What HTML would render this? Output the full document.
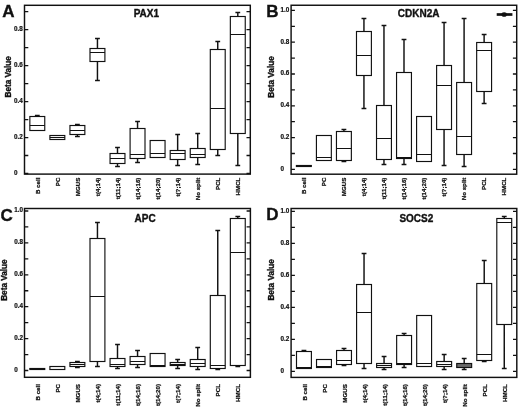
<!DOCTYPE html>
<html><head><meta charset="utf-8"><style>
html,body{margin:0;padding:0;background:#fff;font-family:"Liberation Sans",sans-serif;}
svg{display:block;filter:grayscale(1);}
text{fill:#111;}
</style></head><body>
<svg width="520" height="407" viewBox="0 0 520 407">
<rect width="520" height="407" fill="#fff"/>
<rect x="24.5" y="5.3" width="225.8" height="168.8" fill="none" stroke="#111" stroke-width="1.45"/>
<path d="M24.5 173.5h3.8M250.3 173.5h-3.8M24.5 137.54h3.8M250.3 137.54h-3.8M24.5 101.58h3.8M250.3 101.58h-3.8M24.5 65.62h3.8M250.3 65.62h-3.8M24.5 29.66h3.8M250.3 29.66h-3.8M24.5 155.52h3.8M250.3 155.52h-3.8M24.5 119.56h3.8M250.3 119.56h-3.8M24.5 83.6h3.8M250.3 83.6h-3.8M24.5 47.64h3.8M250.3 47.64h-3.8M24.5 11.68h3.8M250.3 11.68h-3.8" stroke="#111" stroke-width="1.3" fill="none"/>
<text x="14.1" y="174.95" font-size="6.3" font-family="Liberation Sans, sans-serif" font-weight="bold" stroke="#111" stroke-width="0.2">0</text>
<text x="14.1" y="138.99" font-size="6.3" font-family="Liberation Sans, sans-serif" font-weight="bold" stroke="#111" stroke-width="0.2">0.2</text>
<text x="14.1" y="103.03" font-size="6.3" font-family="Liberation Sans, sans-serif" font-weight="bold" stroke="#111" stroke-width="0.2">0.4</text>
<text x="14.1" y="67.07" font-size="6.3" font-family="Liberation Sans, sans-serif" font-weight="bold" stroke="#111" stroke-width="0.2">0.6</text>
<text x="14.1" y="31.11" font-size="6.3" font-family="Liberation Sans, sans-serif" font-weight="bold" stroke="#111" stroke-width="0.2">0.8</text>
<rect x="29.85" y="116.5" width="14.9" height="14" fill="#fff" stroke="#111" stroke-width="1.15"/>
<rect x="49.9" y="135.5" width="14.9" height="4" fill="#fff" stroke="#111" stroke-width="1.15"/>
<rect x="69.95" y="125.5" width="14.9" height="9" fill="#fff" stroke="#111" stroke-width="1.15"/>
<rect x="90" y="48.5" width="14.9" height="13" fill="#fff" stroke="#111" stroke-width="1.15"/>
<rect x="110.05" y="153.5" width="14.9" height="10" fill="#fff" stroke="#111" stroke-width="1.15"/>
<rect x="130.1" y="128.5" width="14.9" height="30" fill="#fff" stroke="#111" stroke-width="1.15"/>
<rect x="150.15" y="140.5" width="14.9" height="17" fill="#fff" stroke="#111" stroke-width="1.15"/>
<rect x="170.2" y="150.5" width="14.9" height="9" fill="#fff" stroke="#111" stroke-width="1.15"/>
<rect x="190.25" y="148.5" width="14.9" height="9" fill="#fff" stroke="#111" stroke-width="1.15"/>
<rect x="210.3" y="49.5" width="14.9" height="100" fill="#fff" stroke="#111" stroke-width="1.15"/>
<rect x="230.35" y="16.5" width="14.9" height="117" fill="#fff" stroke="#111" stroke-width="1.15"/>
<path d="M29.85 125.5H44.75M49.9 137.5H64.8M69.95 130.5H84.85M90 52.5H104.9M110.05 158.5H124.95M130.1 154.5H145M150.15 153.5H165.05M170.2 153.5H185.1M190.25 154.5H205.15M210.3 108.5H225.2M230.35 34.5H245.25" stroke="#111" stroke-width="1.15" fill="none"/>
<path d="M37.3 116.5V115.5M34.9 115.5H39.7M77.4 125.5V124.5M75 124.5H79.8M77.4 134.5V136.5M75 136.5H79.8M97.45 48.5V38.5M95.05 38.5H99.85M97.45 61.5V80.5M95.05 80.5H99.85M117.5 153.5V147.5M115.1 147.5H119.9M117.5 163.5V166.5M115.1 166.5H119.9M137.55 128.5V121.5M135.15 121.5H139.95M137.55 158.5V162.5M135.15 162.5H139.95M177.65 150.5V134.5M175.25 134.5H180.05M177.65 159.5V165.5M175.25 165.5H180.05M197.7 148.5V133.5M195.3 133.5H200.1M197.7 157.5V164.5M195.3 164.5H200.1M217.75 49.5V41.5M215.35 41.5H220.15M217.75 149.5V155.5M215.35 155.5H220.15M237.8 16.5V12.5M235.4 12.5H240.2M237.8 133.5V165.5M235.4 165.5H240.2" stroke="#111" stroke-width="1.45" fill="none"/>
<text transform="translate(39.6 177.6) rotate(-90)" text-anchor="end" font-size="6.2" font-family="Liberation Sans, sans-serif" font-weight="bold" stroke="#111" stroke-width="0.25">B cell</text>
<text transform="translate(59.65 177.6) rotate(-90)" text-anchor="end" font-size="6.2" font-family="Liberation Sans, sans-serif" font-weight="bold" stroke="#111" stroke-width="0.25">PC</text>
<text transform="translate(79.7 177.6) rotate(-90)" text-anchor="end" font-size="6.2" font-family="Liberation Sans, sans-serif" font-weight="bold" stroke="#111" stroke-width="0.25">MGUS</text>
<text transform="translate(99.75 177.6) rotate(-90)" text-anchor="end" font-size="6.2" font-family="Liberation Sans, sans-serif" font-weight="bold" stroke="#111" stroke-width="0.25">t(4;14)</text>
<text transform="translate(119.8 177.6) rotate(-90)" text-anchor="end" font-size="6.2" font-family="Liberation Sans, sans-serif" font-weight="bold" stroke="#111" stroke-width="0.25">t(11;14)</text>
<text transform="translate(139.85 177.6) rotate(-90)" text-anchor="end" font-size="6.2" font-family="Liberation Sans, sans-serif" font-weight="bold" stroke="#111" stroke-width="0.25">t(14;16)</text>
<text transform="translate(159.9 177.6) rotate(-90)" text-anchor="end" font-size="6.2" font-family="Liberation Sans, sans-serif" font-weight="bold" stroke="#111" stroke-width="0.25">t(14;20)</text>
<text transform="translate(179.95 177.6) rotate(-90)" text-anchor="end" font-size="6.2" font-family="Liberation Sans, sans-serif" font-weight="bold" stroke="#111" stroke-width="0.25">t(?;14)</text>
<text transform="translate(200 177.6) rotate(-90)" text-anchor="end" font-size="6.2" font-family="Liberation Sans, sans-serif" font-weight="bold" stroke="#111" stroke-width="0.25">No split</text>
<text transform="translate(220.05 177.6) rotate(-90)" text-anchor="end" font-size="6.2" font-family="Liberation Sans, sans-serif" font-weight="bold" stroke="#111" stroke-width="0.25">PCL</text>
<text transform="translate(240.1 177.6) rotate(-90)" text-anchor="end" font-size="6.2" font-family="Liberation Sans, sans-serif" font-weight="bold" stroke="#111" stroke-width="0.25">HMCL</text>
<text transform="translate(11 76.8) rotate(-90)" text-anchor="middle" font-size="8.2" font-family="Liberation Sans, sans-serif" font-weight="bold" stroke="#111" stroke-width="0.35">Beta Value</text>
<text x="133.7" y="16.9" font-size="10" font-family="Liberation Sans, sans-serif" font-weight="bold" stroke="#111" stroke-width="0.35">PAX1</text>
<text x="2.3" y="17" font-size="17" font-family="Liberation Sans, sans-serif" font-weight="bold" stroke="#111" stroke-width="0.35">A</text>
<rect x="291.1" y="5.25" width="225.6" height="168.95" fill="none" stroke="#111" stroke-width="1.45"/>
<path d="M291.1 169.4h3.8M516.7 169.4h-3.8M291.1 137.6h3.8M516.7 137.6h-3.8M291.1 105.8h3.8M516.7 105.8h-3.8M291.1 74h3.8M516.7 74h-3.8M291.1 42.2h3.8M516.7 42.2h-3.8M291.1 10.4h3.8M516.7 10.4h-3.8M291.1 153.5h3.8M516.7 153.5h-3.8M291.1 121.7h3.8M516.7 121.7h-3.8M291.1 89.9h3.8M516.7 89.9h-3.8M291.1 58.1h3.8M516.7 58.1h-3.8M291.1 26.3h3.8M516.7 26.3h-3.8" stroke="#111" stroke-width="1.3" fill="none"/>
<text x="280.5" y="170.85" font-size="6.3" font-family="Liberation Sans, sans-serif" font-weight="bold" stroke="#111" stroke-width="0.2">0</text>
<text x="280.5" y="139.05" font-size="6.3" font-family="Liberation Sans, sans-serif" font-weight="bold" stroke="#111" stroke-width="0.2">0.2</text>
<text x="280.5" y="107.25" font-size="6.3" font-family="Liberation Sans, sans-serif" font-weight="bold" stroke="#111" stroke-width="0.2">0.4</text>
<text x="280.5" y="75.45" font-size="6.3" font-family="Liberation Sans, sans-serif" font-weight="bold" stroke="#111" stroke-width="0.2">0.6</text>
<text x="280.5" y="43.65" font-size="6.3" font-family="Liberation Sans, sans-serif" font-weight="bold" stroke="#111" stroke-width="0.2">0.8</text>
<text x="280.5" y="11.85" font-size="6.3" font-family="Liberation Sans, sans-serif" font-weight="bold" stroke="#111" stroke-width="0.2">1.0</text>
<rect x="296.4" y="165.5" width="14.9" height="1" fill="#fff" stroke="#111" stroke-width="1.15"/>
<rect x="316.43" y="135.5" width="14.9" height="25" fill="#fff" stroke="#111" stroke-width="1.15"/>
<rect x="336.46" y="131.5" width="14.9" height="29" fill="#fff" stroke="#111" stroke-width="1.15"/>
<rect x="356.49" y="31.5" width="14.9" height="44" fill="#fff" stroke="#111" stroke-width="1.15"/>
<rect x="376.52" y="105.5" width="14.9" height="54" fill="#fff" stroke="#111" stroke-width="1.15"/>
<rect x="396.55" y="72.5" width="14.9" height="86" fill="#fff" stroke="#111" stroke-width="1.15"/>
<rect x="416.58" y="116.5" width="14.9" height="45" fill="#fff" stroke="#111" stroke-width="1.15"/>
<rect x="436.61" y="65.5" width="14.9" height="64" fill="#fff" stroke="#111" stroke-width="1.15"/>
<rect x="456.64" y="82.5" width="14.9" height="72" fill="#fff" stroke="#111" stroke-width="1.15"/>
<rect x="476.67" y="42.5" width="14.9" height="49" fill="#fff" stroke="#111" stroke-width="1.15"/>
<path d="M496.7 14.5H512.4" stroke="#111" stroke-width="2.7" fill="none"/>
<ellipse cx="504.15" cy="14.5" rx="2.7" ry="2.3" fill="#111"/>
<path d="M296.4 165.5H311.3M316.43 157.5H331.33M336.46 148.5H351.36M356.49 55.5H371.39M376.52 138.5H391.42M396.55 157.5H411.45M416.58 154.5H431.48M436.61 85.5H451.51M456.64 136.5H471.54M476.67 50.5H491.57" stroke="#111" stroke-width="1.15" fill="none"/>
<path d="M343.91 131.5V129.5M341.51 129.5H346.31M343.91 160.5V161.5M341.51 161.5H346.31M363.94 31.5V18.5M361.54 18.5H366.34M363.94 75.5V108.5M361.54 108.5H366.34M383.97 105.5V25.5M381.57 25.5H386.37M383.97 159.5V164.5M381.57 164.5H386.37M404 72.5V39.5M401.6 39.5H406.4M404 158.5V164.5M401.6 164.5H406.4M444.06 65.5V22.5M441.66 22.5H446.46M444.06 129.5V165.5M441.66 165.5H446.46M464.09 82.5V18.5M461.69 18.5H466.49M464.09 154.5V166.5M461.69 166.5H466.49M484.12 42.5V34.5M481.72 34.5H486.52M484.12 91.5V103.5M481.72 103.5H486.52" stroke="#111" stroke-width="1.45" fill="none"/>
<text transform="translate(305.85 177.6) rotate(-90)" text-anchor="end" font-size="6.2" font-family="Liberation Sans, sans-serif" font-weight="bold" stroke="#111" stroke-width="0.25">B cell</text>
<text transform="translate(325.88 177.6) rotate(-90)" text-anchor="end" font-size="6.2" font-family="Liberation Sans, sans-serif" font-weight="bold" stroke="#111" stroke-width="0.25">PC</text>
<text transform="translate(345.91 177.6) rotate(-90)" text-anchor="end" font-size="6.2" font-family="Liberation Sans, sans-serif" font-weight="bold" stroke="#111" stroke-width="0.25">MGUS</text>
<text transform="translate(365.94 177.6) rotate(-90)" text-anchor="end" font-size="6.2" font-family="Liberation Sans, sans-serif" font-weight="bold" stroke="#111" stroke-width="0.25">t(4;14)</text>
<text transform="translate(385.97 177.6) rotate(-90)" text-anchor="end" font-size="6.2" font-family="Liberation Sans, sans-serif" font-weight="bold" stroke="#111" stroke-width="0.25">t(11;14)</text>
<text transform="translate(406 177.6) rotate(-90)" text-anchor="end" font-size="6.2" font-family="Liberation Sans, sans-serif" font-weight="bold" stroke="#111" stroke-width="0.25">t(14;16)</text>
<text transform="translate(426.03 177.6) rotate(-90)" text-anchor="end" font-size="6.2" font-family="Liberation Sans, sans-serif" font-weight="bold" stroke="#111" stroke-width="0.25">t(14;20)</text>
<text transform="translate(446.06 177.6) rotate(-90)" text-anchor="end" font-size="6.2" font-family="Liberation Sans, sans-serif" font-weight="bold" stroke="#111" stroke-width="0.25">t(?;14)</text>
<text transform="translate(466.09 177.6) rotate(-90)" text-anchor="end" font-size="6.2" font-family="Liberation Sans, sans-serif" font-weight="bold" stroke="#111" stroke-width="0.25">No split</text>
<text transform="translate(486.12 177.6) rotate(-90)" text-anchor="end" font-size="6.2" font-family="Liberation Sans, sans-serif" font-weight="bold" stroke="#111" stroke-width="0.25">PCL</text>
<text transform="translate(506.15 177.6) rotate(-90)" text-anchor="end" font-size="6.2" font-family="Liberation Sans, sans-serif" font-weight="bold" stroke="#111" stroke-width="0.25">HMCL</text>
<text transform="translate(274.3 77) rotate(-90)" text-anchor="middle" font-size="8.2" font-family="Liberation Sans, sans-serif" font-weight="bold" stroke="#111" stroke-width="0.35">Beta Value</text>
<text x="397.8" y="16.9" font-size="10" font-family="Liberation Sans, sans-serif" font-weight="bold" stroke="#111" stroke-width="0.35">CDKN2A</text>
<text x="266.3" y="17.2" font-size="17" font-family="Liberation Sans, sans-serif" font-weight="bold" stroke="#111" stroke-width="0.35">B</text>
<rect x="24.5" y="208.5" width="225.9" height="168.8" fill="none" stroke="#111" stroke-width="1.45"/>
<path d="M24.5 370.5h3.8M250.4 370.5h-3.8M24.5 338.6h3.8M250.4 338.6h-3.8M24.5 306.7h3.8M250.4 306.7h-3.8M24.5 274.8h3.8M250.4 274.8h-3.8M24.5 242.9h3.8M250.4 242.9h-3.8M24.5 211h3.8M250.4 211h-3.8M24.5 354.55h3.8M250.4 354.55h-3.8M24.5 322.65h3.8M250.4 322.65h-3.8M24.5 290.75h3.8M250.4 290.75h-3.8M24.5 258.85h3.8M250.4 258.85h-3.8M24.5 226.95h3.8M250.4 226.95h-3.8" stroke="#111" stroke-width="1.3" fill="none"/>
<text x="14.3" y="371.95" font-size="6.3" font-family="Liberation Sans, sans-serif" font-weight="bold" stroke="#111" stroke-width="0.2">0</text>
<text x="14.3" y="340.05" font-size="6.3" font-family="Liberation Sans, sans-serif" font-weight="bold" stroke="#111" stroke-width="0.2">0.2</text>
<text x="14.3" y="308.15" font-size="6.3" font-family="Liberation Sans, sans-serif" font-weight="bold" stroke="#111" stroke-width="0.2">0.4</text>
<text x="14.3" y="276.25" font-size="6.3" font-family="Liberation Sans, sans-serif" font-weight="bold" stroke="#111" stroke-width="0.2">0.6</text>
<text x="14.3" y="244.35" font-size="6.3" font-family="Liberation Sans, sans-serif" font-weight="bold" stroke="#111" stroke-width="0.2">0.8</text>
<text x="14.3" y="212.45" font-size="6.3" font-family="Liberation Sans, sans-serif" font-weight="bold" stroke="#111" stroke-width="0.2">1.0</text>
<rect x="29.85" y="368.5" width="14.9" height="1" fill="#fff" stroke="#111" stroke-width="1.15"/>
<rect x="49.9" y="366.5" width="14.9" height="3" fill="#fff" stroke="#111" stroke-width="1.15"/>
<rect x="69.95" y="362.5" width="14.9" height="4" fill="#fff" stroke="#111" stroke-width="1.15"/>
<rect x="90" y="238.5" width="14.9" height="123" fill="#fff" stroke="#111" stroke-width="1.15"/>
<rect x="110.05" y="358.5" width="14.9" height="8" fill="#fff" stroke="#111" stroke-width="1.15"/>
<rect x="130.1" y="356.5" width="14.9" height="8" fill="#fff" stroke="#111" stroke-width="1.15"/>
<rect x="150.15" y="353.5" width="14.9" height="13" fill="#fff" stroke="#111" stroke-width="1.15"/>
<rect x="170.2" y="362.5" width="14.9" height="3" fill="#fff" stroke="#111" stroke-width="1.15"/>
<rect x="190.25" y="359.5" width="14.9" height="7" fill="#fff" stroke="#111" stroke-width="1.15"/>
<rect x="210.3" y="295.5" width="14.9" height="73" fill="#fff" stroke="#111" stroke-width="1.15"/>
<rect x="230.35" y="218.5" width="14.9" height="147" fill="#fff" stroke="#111" stroke-width="1.15"/>
<path d="M29.85 368.5H44.75M49.9 369.5H64.8M69.95 364.5H84.85M90 296.5H104.9M110.05 364.5H124.95M130.1 361.5H145M150.15 365.5H165.05M170.2 364.5H185.1M190.25 363.5H205.15M210.3 365.5H225.2M230.35 252.5H245.25" stroke="#111" stroke-width="1.15" fill="none"/>
<path d="M77.4 362.5V361.5M75 361.5H79.8M77.4 366.5V367.5M75 367.5H79.8M97.45 238.5V222.5M95.05 222.5H99.85M97.45 361.5V366.5M95.05 366.5H99.85M117.5 358.5V344.5M115.1 344.5H119.9M117.5 366.5V368.5M115.1 368.5H119.9M137.55 356.5V350.5M135.15 350.5H139.95M137.55 364.5V367.5M135.15 367.5H139.95M177.65 362.5V359.5M175.25 359.5H180.05M177.65 365.5V368.5M175.25 368.5H180.05M197.7 359.5V347.5M195.3 347.5H200.1M197.7 366.5V369.5M195.3 369.5H200.1M217.75 295.5V230.5M215.35 230.5H220.15M217.75 368.5V369.5M215.35 369.5H220.15M237.8 218.5V216.5M235.4 216.5H240.2M237.8 365.5V366.5M235.4 366.5H240.2" stroke="#111" stroke-width="1.45" fill="none"/>
<text transform="translate(39.7 384) rotate(-90)" text-anchor="end" font-size="6.2" font-family="Liberation Sans, sans-serif" font-weight="bold" stroke="#111" stroke-width="0.25">B cell</text>
<text transform="translate(59.75 384) rotate(-90)" text-anchor="end" font-size="6.2" font-family="Liberation Sans, sans-serif" font-weight="bold" stroke="#111" stroke-width="0.25">PC</text>
<text transform="translate(79.8 384) rotate(-90)" text-anchor="end" font-size="6.2" font-family="Liberation Sans, sans-serif" font-weight="bold" stroke="#111" stroke-width="0.25">MGUS</text>
<text transform="translate(99.85 384) rotate(-90)" text-anchor="end" font-size="6.2" font-family="Liberation Sans, sans-serif" font-weight="bold" stroke="#111" stroke-width="0.25">t(4;14)</text>
<text transform="translate(119.9 384) rotate(-90)" text-anchor="end" font-size="6.2" font-family="Liberation Sans, sans-serif" font-weight="bold" stroke="#111" stroke-width="0.25">t(11;14)</text>
<text transform="translate(139.95 384) rotate(-90)" text-anchor="end" font-size="6.2" font-family="Liberation Sans, sans-serif" font-weight="bold" stroke="#111" stroke-width="0.25">t(14;16)</text>
<text transform="translate(160 384) rotate(-90)" text-anchor="end" font-size="6.2" font-family="Liberation Sans, sans-serif" font-weight="bold" stroke="#111" stroke-width="0.25">t(14;20)</text>
<text transform="translate(180.05 384) rotate(-90)" text-anchor="end" font-size="6.2" font-family="Liberation Sans, sans-serif" font-weight="bold" stroke="#111" stroke-width="0.25">t(?;14)</text>
<text transform="translate(200.1 384) rotate(-90)" text-anchor="end" font-size="6.2" font-family="Liberation Sans, sans-serif" font-weight="bold" stroke="#111" stroke-width="0.25">No split</text>
<text transform="translate(220.15 384) rotate(-90)" text-anchor="end" font-size="6.2" font-family="Liberation Sans, sans-serif" font-weight="bold" stroke="#111" stroke-width="0.25">PCL</text>
<text transform="translate(240.2 384) rotate(-90)" text-anchor="end" font-size="6.2" font-family="Liberation Sans, sans-serif" font-weight="bold" stroke="#111" stroke-width="0.25">HMCL</text>
<text transform="translate(7.4 280.1) rotate(-90)" text-anchor="middle" font-size="8.2" font-family="Liberation Sans, sans-serif" font-weight="bold" stroke="#111" stroke-width="0.35">Beta Value</text>
<text x="134.5" y="222.2" font-size="10" font-family="Liberation Sans, sans-serif" font-weight="bold" stroke="#111" stroke-width="0.35">APC</text>
<text x="0.6" y="220.8" font-size="17" font-family="Liberation Sans, sans-serif" font-weight="bold" stroke="#111" stroke-width="0.35">C</text>
<rect x="291.1" y="208.5" width="225.7" height="168.9" fill="none" stroke="#111" stroke-width="1.45"/>
<path d="M291.1 371.4h3.8M516.8 371.4h-3.8M291.1 339.39h3.8M516.8 339.39h-3.8M291.1 307.38h3.8M516.8 307.38h-3.8M291.1 275.37h3.8M516.8 275.37h-3.8M291.1 243.36h3.8M516.8 243.36h-3.8M291.1 211.35h3.8M516.8 211.35h-3.8M291.1 355.39h3.8M516.8 355.39h-3.8M291.1 323.38h3.8M516.8 323.38h-3.8M291.1 291.38h3.8M516.8 291.38h-3.8M291.1 259.37h3.8M516.8 259.37h-3.8M291.1 227.35h3.8M516.8 227.35h-3.8" stroke="#111" stroke-width="1.3" fill="none"/>
<text x="280.6" y="372.85" font-size="6.3" font-family="Liberation Sans, sans-serif" font-weight="bold" stroke="#111" stroke-width="0.2">0</text>
<text x="280.6" y="340.84" font-size="6.3" font-family="Liberation Sans, sans-serif" font-weight="bold" stroke="#111" stroke-width="0.2">0.2</text>
<text x="280.6" y="308.83" font-size="6.3" font-family="Liberation Sans, sans-serif" font-weight="bold" stroke="#111" stroke-width="0.2">0.4</text>
<text x="280.6" y="276.82" font-size="6.3" font-family="Liberation Sans, sans-serif" font-weight="bold" stroke="#111" stroke-width="0.2">0.6</text>
<text x="280.6" y="244.81" font-size="6.3" font-family="Liberation Sans, sans-serif" font-weight="bold" stroke="#111" stroke-width="0.2">0.8</text>
<text x="280.6" y="212.8" font-size="6.3" font-family="Liberation Sans, sans-serif" font-weight="bold" stroke="#111" stroke-width="0.2">1.0</text>
<rect x="296.5" y="351.5" width="14.9" height="17" fill="#fff" stroke="#111" stroke-width="1.15"/>
<rect x="316.53" y="359.5" width="14.9" height="8" fill="#fff" stroke="#111" stroke-width="1.15"/>
<rect x="336.56" y="350.5" width="14.9" height="14" fill="#fff" stroke="#111" stroke-width="1.15"/>
<rect x="356.59" y="284.5" width="14.9" height="79" fill="#fff" stroke="#111" stroke-width="1.15"/>
<rect x="376.62" y="363.5" width="14.9" height="4" fill="#fff" stroke="#111" stroke-width="1.15"/>
<rect x="396.65" y="335.5" width="14.9" height="29" fill="#fff" stroke="#111" stroke-width="1.15"/>
<rect x="416.68" y="315.5" width="14.9" height="51" fill="#fff" stroke="#111" stroke-width="1.15"/>
<rect x="436.71" y="361.5" width="14.9" height="5" fill="#fff" stroke="#111" stroke-width="1.15"/>
<rect x="456.74" y="363.5" width="14.9" height="4" fill="#6a6a6a" stroke="#111" stroke-width="1.15"/>
<rect x="476.77" y="283.5" width="14.9" height="77" fill="#fff" stroke="#111" stroke-width="1.15"/>
<rect x="496.8" y="218.5" width="14.9" height="106" fill="#fff" stroke="#111" stroke-width="1.15"/>
<path d="M296.5 367.5H311.4M316.53 366.5H331.43M336.56 360.5H351.46M356.59 312.5H371.49M376.62 365.5H391.52M396.65 363.5H411.55M416.68 363.5H431.58M436.71 364.5H451.61M476.77 354.5H491.67M496.8 222.5H511.7" stroke="#111" stroke-width="1.15" fill="none"/>
<path d="M303.95 351.5V350.5M301.55 350.5H306.35M344.01 350.5V348.5M341.61 348.5H346.41M344.01 364.5V365.5M341.61 365.5H346.41M364.04 284.5V253.5M361.64 253.5H366.44M364.04 363.5V368.5M361.64 368.5H366.44M384.07 363.5V356.5M381.67 356.5H386.47M384.07 367.5V369.5M381.67 369.5H386.47M404.1 335.5V333.5M401.7 333.5H406.5M404.1 364.5V367.5M401.7 367.5H406.5M444.16 361.5V354.5M441.76 354.5H446.56M444.16 366.5V369.5M441.76 369.5H446.56M464.19 363.5V358.5M461.79 358.5H466.59M464.19 367.5V369.5M461.79 369.5H466.59M484.22 283.5V260.5M481.82 260.5H486.62M484.22 360.5V361.5M481.82 361.5H486.62M504.25 218.5V216.5M501.85 216.5H506.65M504.25 324.5V368.5M501.85 368.5H506.65" stroke="#111" stroke-width="1.45" fill="none"/>
<text transform="translate(306.55 384.1) rotate(-90)" text-anchor="end" font-size="6.2" font-family="Liberation Sans, sans-serif" font-weight="bold" stroke="#111" stroke-width="0.25">B cell</text>
<text transform="translate(326.58 384.1) rotate(-90)" text-anchor="end" font-size="6.2" font-family="Liberation Sans, sans-serif" font-weight="bold" stroke="#111" stroke-width="0.25">PC</text>
<text transform="translate(346.61 384.1) rotate(-90)" text-anchor="end" font-size="6.2" font-family="Liberation Sans, sans-serif" font-weight="bold" stroke="#111" stroke-width="0.25">MGUS</text>
<text transform="translate(366.64 384.1) rotate(-90)" text-anchor="end" font-size="6.2" font-family="Liberation Sans, sans-serif" font-weight="bold" stroke="#111" stroke-width="0.25">t(4;14)</text>
<text transform="translate(386.67 384.1) rotate(-90)" text-anchor="end" font-size="6.2" font-family="Liberation Sans, sans-serif" font-weight="bold" stroke="#111" stroke-width="0.25">t(11;14)</text>
<text transform="translate(406.7 384.1) rotate(-90)" text-anchor="end" font-size="6.2" font-family="Liberation Sans, sans-serif" font-weight="bold" stroke="#111" stroke-width="0.25">t(14;16)</text>
<text transform="translate(426.73 384.1) rotate(-90)" text-anchor="end" font-size="6.2" font-family="Liberation Sans, sans-serif" font-weight="bold" stroke="#111" stroke-width="0.25">t(14;20)</text>
<text transform="translate(446.76 384.1) rotate(-90)" text-anchor="end" font-size="6.2" font-family="Liberation Sans, sans-serif" font-weight="bold" stroke="#111" stroke-width="0.25">t(?;14)</text>
<text transform="translate(466.79 384.1) rotate(-90)" text-anchor="end" font-size="6.2" font-family="Liberation Sans, sans-serif" font-weight="bold" stroke="#111" stroke-width="0.25">No split</text>
<text transform="translate(486.82 384.1) rotate(-90)" text-anchor="end" font-size="6.2" font-family="Liberation Sans, sans-serif" font-weight="bold" stroke="#111" stroke-width="0.25">PCL</text>
<text transform="translate(506.85 384.1) rotate(-90)" text-anchor="end" font-size="6.2" font-family="Liberation Sans, sans-serif" font-weight="bold" stroke="#111" stroke-width="0.25">HMCL</text>
<text transform="translate(274.3 279.9) rotate(-90)" text-anchor="middle" font-size="8.2" font-family="Liberation Sans, sans-serif" font-weight="bold" stroke="#111" stroke-width="0.35">Beta Value</text>
<text x="399.4" y="222.2" font-size="10" font-family="Liberation Sans, sans-serif" font-weight="bold" stroke="#111" stroke-width="0.35">SOCS2</text>
<text x="266.3" y="220.4" font-size="17" font-family="Liberation Sans, sans-serif" font-weight="bold" stroke="#111" stroke-width="0.35">D</text>
</svg>
</body></html>
